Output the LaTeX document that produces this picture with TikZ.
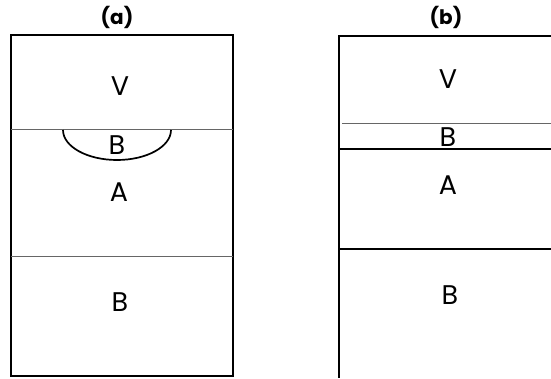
\documentclass[tikz,border=0pt]{standalone}
\usepackage{fontspec}
\setmainfont{Poppins}
\begin{document}
\begin{tikzpicture}[x=1pt,y=-1pt,
  frame/.style={line width=2pt,black},
  thin/.style={line width=1pt,black!60},
  thinb/.style={line width=1.3pt,black},
  arcl/.style={line width=1.7pt,black},
  lbl/.style={font=\fontsize{27}{27}\selectfont,inner sep=0pt},
  ttl/.style={font=\bfseries\fontsize{20}{20}\selectfont,inner sep=0pt}]
\useasboundingbox (0,0) rectangle (551,378);
% panel (a)
\node[ttl] (ta) at (117,17) {(a)};
\draw[frame] (11,35) rectangle (233,376);
\draw[thin] (11,129.5) -- (233,129.5);
\draw[thin] (11,256) -- (233,256);
\draw[arcl] (63,130) arc[start angle=180,end angle=360,x radius=54,y radius=-30];
\node[lbl] (va) at (120,86) {V};
\node[lbl] (ba1) at (117,145) {B};
\node[lbl] (aa) at (119,192) {A};
\node[lbl] (ba2) at (120,302) {B};
% panel (b)
\node[ttl] (tb) at (446,17) {(b)};
\draw[frame] (551,36) -- (339,36) -- (339,378);
\draw[thin] (342,123) -- (551,123);
\draw[frame] (339,149) -- (551,149);
\draw[thinb] (339,249) -- (551,249);
\node[lbl] (vb) at (448,79) {V};
\node[lbl] (bb1) at (448,137) {B};
\node[lbl] (ab) at (448,185) {A};
\node[lbl] (bb2) at (450,295) {B};
\end{tikzpicture}
\end{document}
